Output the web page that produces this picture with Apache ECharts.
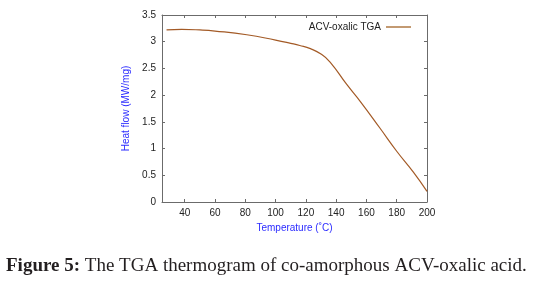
<!DOCTYPE html>
<html>
<head>
<meta charset="utf-8">
<script src="https://cdn.jsdelivr.net/npm/echarts@6/dist/echarts.min.js"></script>
<style>
  html, body { margin: 0; padding: 0; background: #fff; }
  #chart { width: 537px; height: 286px; }
</style>
</head>
<body>
<div id="chart"></div>
<script>
// temperature (°C) and heat flow
const temps = [28, 38, 50, 60, 81, 100, 110, 116, 123, 130, 136, 147, 156, 169, 180, 191, 200]
const heatFlow = [3.22, 3.23, 3.22, 3.2, 3.13, 3.03, 2.97, 2.93, 2.87, 2.77, 2.62, 2.2, 1.88, 1.38, 0.95, 0.56, 0.2]
const xTicks = [40, 60, 80, 100, 120, 140, 160, 180, 200]
const seriesName = 'ACV-oxalic TGA'

const axisColor = '#6b6b6b'
const labelFont = { fontFamily: 'Liberation Sans', fontSize: 10, color: '#222' }

const chart = echarts.init(document.getElementById('chart'))

const xBase = {
  type: 'value',
  min: 25,
  max: 200,
  axisLine: { show: true, onZero: false, lineStyle: { color: axisColor, width: 1 } },
  axisTick: { show: true, inside: true, length: 3, customValues: xTicks, lineStyle: { color: axisColor } },
  splitLine: { show: false }
}
const yBase = {
  type: 'value',
  min: 0,
  max: 3.5,
  interval: 0.5,
  axisLine: { show: true, onZero: false, lineStyle: { color: axisColor, width: 1 } },
  axisTick: { show: true, inside: true, length: 3, lineStyle: { color: axisColor } },
  splitLine: { show: false }
}

chart.setOption({
  animation: false,
  grid: { left: 162, right: 110, top: 15, bottom: 84 },
  legend: {
    right: 121,
    top: 17,
    align: 'right',
    itemWidth: 25,
    itemHeight: 2,
    icon: 'rect',
    textStyle: { fontFamily: 'Liberation Sans', fontSize: 10, color: '#222' },
    data: [{ name: seriesName, itemStyle: { color: '#c39a72' } }]
  },
  xAxis: [
    Object.assign({}, xBase, {
      position: 'bottom',
      name: 'Temperature (\u02daC)',
      nameLocation: 'middle',
      nameGap: 19,
      nameTextStyle: { fontFamily: 'Liberation Sans', fontSize: 10, color: '#2b2bff' },
      axisLabel: Object.assign({ customValues: xTicks, margin: 6 }, labelFont)
    }),
    Object.assign({}, xBase, {
      position: 'top',
      axisLabel: { show: false }
    })
  ],
  yAxis: [
    Object.assign({}, yBase, {
      position: 'left',
      name: 'Heat flow (MW/mg)',
      nameLocation: 'middle',
      nameRotate: 90,
      nameGap: 31,
      nameTextStyle: { fontFamily: 'Liberation Sans', fontSize: 10, color: '#2b2bff' },
      axisLabel: Object.assign({ margin: 6 }, labelFont)
    }),
    Object.assign({}, yBase, {
      position: 'right',
      axisLabel: { show: false }
    })
  ],
  series: [
    {
      name: seriesName,
      type: 'line',
      smooth: 0.5,
      showSymbol: false,
      data: temps.map((t, i) => [t, heatFlow[i]]),
      lineStyle: { color: '#a35a26', width: 1.2 },
      itemStyle: { color: '#a35a26' }
    }
  ],
  graphic: [
    {
      type: 'text',
      left: 6,
      top: 257,
      style: {
        text: '{b|Figure 5:} The TGA thermogram of co-amorphous ACV-oxalic acid.',
        font: '19px "Liberation Serif"',
        fill: '#231f20',
        rich: {
          b: { font: 'bold 19px "Liberation Serif"', fill: '#231f20' }
        }
      }
    }
  ]
})
</script>
</body>
</html>
